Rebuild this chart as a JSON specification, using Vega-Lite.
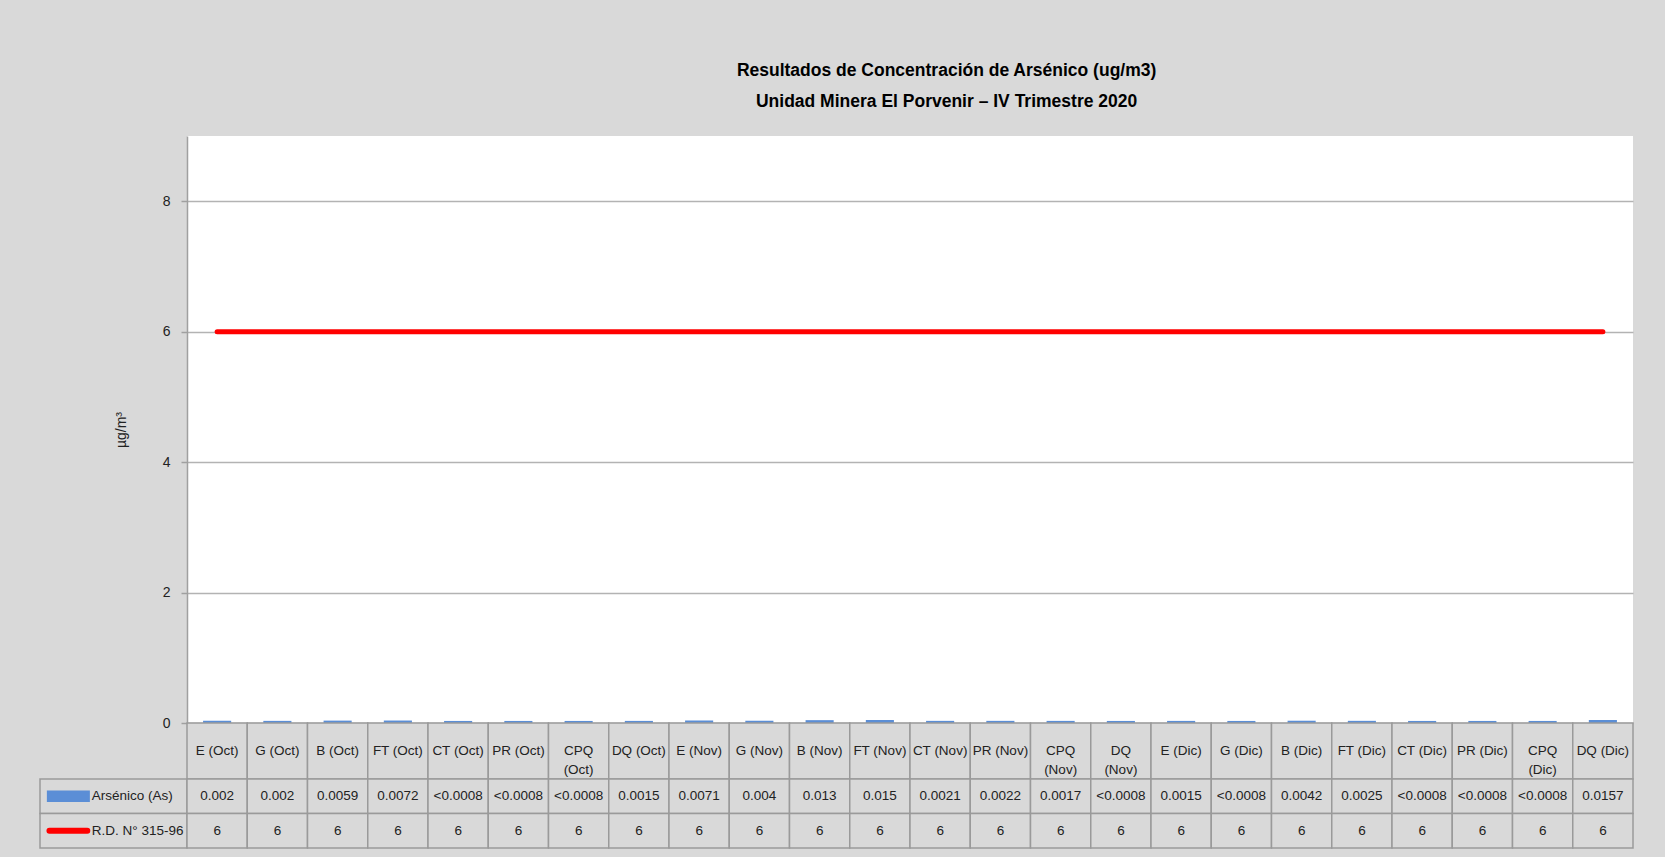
{
  "$schema": "https://vega.github.io/schema/vega-lite/v6.json",
  "background": "#d9d9d9",
  "padding": {"left": 37, "top": 61, "right": 31, "bottom": 8},
  "config": {
    "view": {"stroke": null},
    "font": "Liberation Sans",
    "text": {"font": "Liberation Sans"}
  },
  "title": {
    "text": ["Resultados de Concentración de Arsénico (ug/m3)", "Unidad Minera El Porvenir – IV Trimestre 2020"],
    "font": "Liberation Sans",
    "fontSize": 17.5,
    "fontWeight": "bold",
    "color": "#000000",
    "anchor": "middle",
    "dx": 111,
    "lineHeight": 31,
    "offset": 26
  },
  "datasets": {
    "d": [
      {"cat": "E (Oct)", "lab": "E (Oct)", "as": 0.002, "asTxt": "0.002", "rd": 6, "rdTxt": "6"},
      {"cat": "G (Oct)", "lab": "G (Oct)", "as": 0.002, "asTxt": "0.002", "rd": 6, "rdTxt": "6"},
      {"cat": "B (Oct)", "lab": "B (Oct)", "as": 0.0059, "asTxt": "0.0059", "rd": 6, "rdTxt": "6"},
      {"cat": "FT (Oct)", "lab": "FT (Oct)", "as": 0.0072, "asTxt": "0.0072", "rd": 6, "rdTxt": "6"},
      {"cat": "CT (Oct)", "lab": "CT (Oct)", "as": 0.0008, "asTxt": "<0.0008", "rd": 6, "rdTxt": "6"},
      {"cat": "PR (Oct)", "lab": "PR (Oct)", "as": 0.0008, "asTxt": "<0.0008", "rd": 6, "rdTxt": "6"},
      {"cat": "CPQ (Oct)", "lab": "CPQ\n(Oct)", "as": 0.0008, "asTxt": "<0.0008", "rd": 6, "rdTxt": "6"},
      {"cat": "DQ (Oct)", "lab": "DQ (Oct)", "as": 0.0015, "asTxt": "0.0015", "rd": 6, "rdTxt": "6"},
      {"cat": "E (Nov)", "lab": "E (Nov)", "as": 0.0071, "asTxt": "0.0071", "rd": 6, "rdTxt": "6"},
      {"cat": "G (Nov)", "lab": "G (Nov)", "as": 0.004, "asTxt": "0.004", "rd": 6, "rdTxt": "6"},
      {"cat": "B (Nov)", "lab": "B (Nov)", "as": 0.013, "asTxt": "0.013", "rd": 6, "rdTxt": "6"},
      {"cat": "FT (Nov)", "lab": "FT (Nov)", "as": 0.015, "asTxt": "0.015", "rd": 6, "rdTxt": "6"},
      {"cat": "CT (Nov)", "lab": "CT (Nov)", "as": 0.0021, "asTxt": "0.0021", "rd": 6, "rdTxt": "6"},
      {"cat": "PR (Nov)", "lab": "PR (Nov)", "as": 0.0022, "asTxt": "0.0022", "rd": 6, "rdTxt": "6"},
      {"cat": "CPQ (Nov)", "lab": "CPQ\n(Nov)", "as": 0.0017, "asTxt": "0.0017", "rd": 6, "rdTxt": "6"},
      {"cat": "DQ (Nov)", "lab": "DQ\n(Nov)", "as": 0.0008, "asTxt": "<0.0008", "rd": 6, "rdTxt": "6"},
      {"cat": "E (Dic)", "lab": "E (Dic)", "as": 0.0015, "asTxt": "0.0015", "rd": 6, "rdTxt": "6"},
      {"cat": "G (Dic)", "lab": "G (Dic)", "as": 0.0008, "asTxt": "<0.0008", "rd": 6, "rdTxt": "6"},
      {"cat": "B (Dic)", "lab": "B (Dic)", "as": 0.0042, "asTxt": "0.0042", "rd": 6, "rdTxt": "6"},
      {"cat": "FT (Dic)", "lab": "FT (Dic)", "as": 0.0025, "asTxt": "0.0025", "rd": 6, "rdTxt": "6"},
      {"cat": "CT (Dic)", "lab": "CT (Dic)", "as": 0.0008, "asTxt": "<0.0008", "rd": 6, "rdTxt": "6"},
      {"cat": "PR (Dic)", "lab": "PR (Dic)", "as": 0.0008, "asTxt": "<0.0008", "rd": 6, "rdTxt": "6"},
      {"cat": "CPQ (Dic)", "lab": "CPQ\n(Dic)", "as": 0.0008, "asTxt": "<0.0008", "rd": 6, "rdTxt": "6"},
      {"cat": "DQ (Dic)", "lab": "DQ (Dic)", "as": 0.0157, "asTxt": "0.0157", "rd": 6, "rdTxt": "6"}
    ],
    "leg": [
      {"s": "Arsénico (As)", "k": "asTxt"},
      {"s": "R.D. N° 315-96", "k": "rdTxt"}
    ]
  },
  "columns": 2,
  "spacing": 0,
  "bounds": "flush",
  "concat": [
    {
      "width": 147,
      "height": 587,
      "data": {"values": []},
      "mark": "point"
    },
    {
      "width": 1446,
      "height": 587,
      "view": {"fill": "#ffffff", "stroke": null},
      "data": {"name": "d"},
      "encoding": {
        "x": {"field": "cat", "type": "nominal", "sort": null, "axis": null, "scale": {"paddingInner": 0.6, "paddingOuter": 0.3}}
      },
      "layer": [
        {
          "mark": {"type": "bar", "color": "#5B8ED6", "stroke": "#5B8ED6", "strokeWidth": 4},
          "encoding": {
            "y": {
              "field": "as", "type": "quantitative",
              "scale": {"domain": [0, 9], "nice": false},
              "axis": {
                "title": "µg/m³",
                "values": [0, 2, 4, 6, 8],
                "format": "d",
                "grid": true,
                "gridColor": "#b3b3b3",
                "gridWidth": 1.5,
                "domainColor": "#a0a0a0",
                "domainWidth": 1.5,
                "tickColor": "#a0a0a0",
                "tickWidth": 1.5,
                "tickSize": 6,
                "labelFont": "Liberation Sans",
                "labelFontSize": 14,
                "labelColor": "#222222",
                "labelPadding": 11,
                "titleFont": "Liberation Sans",
                "titleFontSize": 14,
                "titleFontWeight": "normal",
                "titleColor": "#222222",
                "titlePadding": 34
              }
            }
          }
        },
        {
          "mark": {"type": "line", "color": "#ff0000", "strokeWidth": 5, "strokeCap": "round"},
          "encoding": {
            "y": {"field": "rd", "type": "quantitative", "title": "µg/m³"}
          }
        }
      ]
    },
    {
      "width": 147,
      "height": 56,
      "data": {"values": []},
      "mark": "point"
    },
    {
      "width": 1446,
      "height": 56,
      "data": {"name": "d"},
      "encoding": {
        "x": {"field": "cat", "type": "nominal", "sort": null, "axis": null, "scale": {"paddingInner": 0, "paddingOuter": 0}}
      },
      "layer": [
        {"mark": {"type": "rect", "fill": "#d9d9d9", "stroke": "#9a9a9a", "strokeWidth": 1.5}},
        {
          "mark": {"type": "text", "lineBreak": "\n", "fontSize": 13.5, "color": "#222222", "lineHeight": 19},
          "encoding": {"text": {"field": "lab", "type": "nominal"}}
        }
      ]
    },
    {
      "width": 147,
      "height": 69,
      "data": {"name": "leg"},
      "encoding": {
        "y": {"field": "s", "type": "nominal", "sort": null, "axis": null, "scale": {"paddingInner": 0, "paddingOuter": 0}}
      },
      "layer": [
        {"mark": {"type": "rect", "fill": "#d9d9d9", "stroke": "#9a9a9a", "strokeWidth": 1.5}},
        {
          "transform": [{"filter": "datum.k === 'asTxt'"}],
          "mark": {"type": "point", "shape": "M-1,-0.27H1V0.27H-1Z", "size": 1849, "filled": true, "fill": "#5B8ED6", "strokeWidth": 0, "opacity": 1},
          "encoding": {"x": {"datum": 0.193, "type": "quantitative", "axis": null, "scale": {"domain": [0, 1], "nice": false, "zero": false}}}
        },
        {
          "transform": [{"filter": "datum.k === 'rdTxt'"}],
          "mark": {"type": "point", "shape": "M-0.86,0H0.86", "size": 1936, "filled": false, "stroke": "#ff0000", "strokeWidth": 6, "strokeCap": "round", "opacity": 1},
          "encoding": {"x": {"datum": 0.193, "type": "quantitative", "axis": null}}
        },
        {
          "mark": {"type": "text", "align": "left", "fontSize": 13.5, "color": "#222222"},
          "encoding": {
            "x": {"datum": 0.352, "type": "quantitative", "axis": null},
            "text": {"field": "s", "type": "nominal"}
          }
        }
      ]
    },
    {
      "width": 1446,
      "height": 69,
      "data": {"name": "d"},
      "transform": [{"fold": ["asTxt", "rdTxt"], "as": ["k", "v"]}],
      "encoding": {
        "x": {"field": "cat", "type": "nominal", "sort": null, "axis": null, "scale": {"paddingInner": 0, "paddingOuter": 0}},
        "y": {"field": "k", "type": "nominal", "sort": ["asTxt", "rdTxt"], "axis": null, "scale": {"paddingInner": 0, "paddingOuter": 0}}
      },
      "layer": [
        {"mark": {"type": "rect", "fill": "#d9d9d9", "stroke": "#9a9a9a", "strokeWidth": 1.5}},
        {
          "mark": {"type": "text", "fontSize": 13.5, "color": "#222222"},
          "encoding": {"text": {"field": "v", "type": "nominal"}}
        }
      ]
    }
  ]
}
